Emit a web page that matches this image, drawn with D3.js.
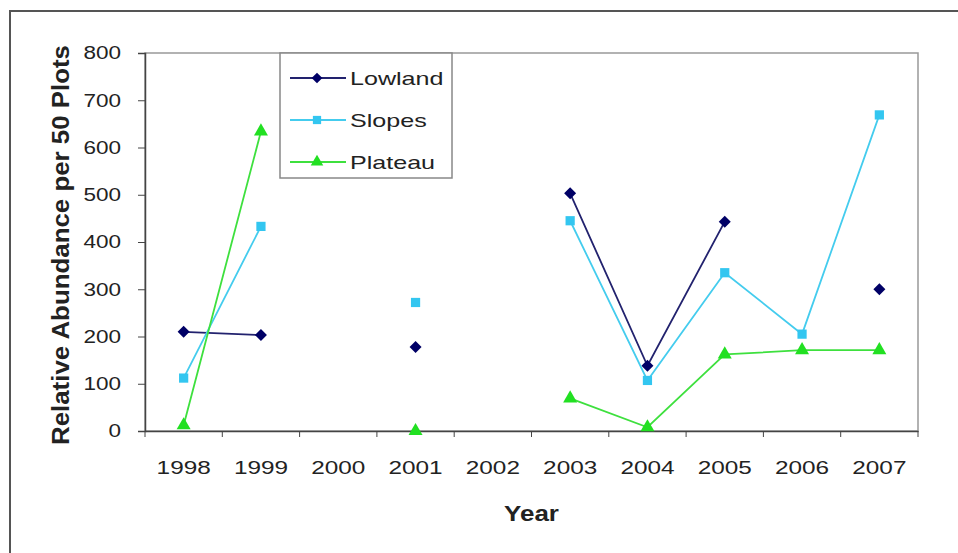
<!DOCTYPE html>
<html>
<head>
<meta charset="utf-8">
<script src="https://cdn.jsdelivr.net/npm/d3@7"></script>
<style>
  body { margin: 0; background: #fff; }
  text { font-family: "Liberation Sans", Arial, sans-serif; fill: #222; }
</style>
</head>
<body>
<div class="chart"></div>
<script>
let years = ["1998", "1999", "2000", "2001", "2002", "2003", "2004", "2005", "2006", "2007"];
let lowland = [210, 203, null, 178, null, 503, 138, 443, null, 300];
let slopes = [112, 433, null, 272, null, 445, 107, 335, 205, 669];
let plateau = [12, 634, null, 0, null, 69, 8, 162, 171, 171];
let seriesNames = ["Lowland", "Slopes", "Plateau"];
let yTicks = [0, 100, 200, 300, 400, 500, 600, 700, 800];

let width = 958;
let height = 553;
let margin = { top: 53, left: 145, right: 40, bottom: 122 };
let plotW = width - margin.left - margin.right;
let plotH = height - margin.top - margin.bottom;

// the picture is a bit wider than a normal font, so text is stretched
function stretch(sel, k) {
  sel.each(function() {
    let w = this.getComputedTextLength();
    d3.select(this).attr("textLength", w * k).attr("lengthAdjust", "spacingAndGlyphs");
  });
}

let svg = d3.select(".chart")
  .append("svg")
  .attr("width", width)
  .attr("height", height);

// outer frame, runs off the right and bottom edge
svg.append("rect")
  .attr("x", 10)
  .attr("y", 11)
  .attr("width", 1000)
  .attr("height", 600)
  .attr("fill", "none")
  .attr("stroke", "#555")
  .attr("stroke-width", 2);

let g = svg.append("g")
  .attr("transform", "translate(" + margin.left + "," + margin.top + ")");

let x = d3.scaleBand().domain(years).range([0, plotW]).padding(0);
let y = d3.scaleLinear().domain([0, 800]).range([plotH, 0]);

// plot area border
g.append("rect")
  .attr("x", 0)
  .attr("y", 0)
  .attr("width", plotW)
  .attr("height", plotH)
  .attr("fill", "none")
  .attr("stroke", "#999")
  .attr("stroke-width", 1.5);

// y axis
let yAxis = g.append("g")
  .call(d3.axisLeft(y).tickValues(yTicks).tickSize(7).tickPadding(17));
yAxis.select(".domain").attr("stroke", "#444").attr("stroke-width", 1.5);
yAxis.selectAll(".tick line").attr("stroke", "#444");
yAxis.selectAll(".tick text")
  .attr("font-size", 18)
  .attr("fill", "#2a2a2a")
  .attr("font-family", "Liberation Sans, Arial, sans-serif")
  .call(stretch, 1.25);

// x axis, ticks sit between the categories
let xAxis = g.append("g")
  .attr("transform", "translate(0," + plotH + ")")
  .call(d3.axisBottom(x).tickSize(0).tickPadding(30));
xAxis.select(".domain").attr("stroke", "#444").attr("stroke-width", 1.5);
xAxis.selectAll(".tick text")
  .attr("font-size", 19)
  .attr("fill", "#2a2a2a")
  .attr("font-family", "Liberation Sans, Arial, sans-serif")
  .call(stretch, 1.28);
xAxis.selectAll(".sep")
  .data(years.concat(["end"]))
  .enter()
  .append("line")
  .attr("class", "sep")
  .attr("x1", function(d, i) { return i < years.length ? x(d) : plotW; })
  .attr("x2", function(d, i) { return i < years.length ? x(d) : plotW; })
  .attr("y1", 0)
  .attr("y2", 6)
  .attr("stroke", "#444");

// axis titles
svg.append("text")
  .attr("transform", "translate(69,245) rotate(-90)")
  .attr("text-anchor", "middle")
  .attr("font-size", 24)
  .attr("font-weight", "bold")
  .attr("fill", "#111")
  .attr("textLength", 400)
  .attr("lengthAdjust", "spacingAndGlyphs")
  .text("Relative Abundance per 50 Plots");

svg.append("text")
  .attr("x", margin.left + plotW / 2)
  .attr("y", 521)
  .attr("text-anchor", "middle")
  .attr("font-size", 22)
  .attr("font-weight", "bold")
  .attr("fill", "#111")
  .text("Year")
  .call(stretch, 1.18);

// diamonds in the picture are square ones turned 45 degrees
let series = [
  { name: seriesNames[0], values: lowland, line: "#22226e", fill: "#000066", shape: d3.symbolSquare, size: 72, rot: 45 },
  { name: seriesNames[1], values: slopes, line: "#44ccee", fill: "#33c6f0", shape: d3.symbolSquare, size: 85, rot: 0 },
  { name: seriesNames[2], values: plateau, line: "#3ee03e", fill: "#22e022", shape: d3.symbolTriangle, size: 85, rot: 0 }
];

let line = d3.line()
  .defined(function(d) { return d != null; })
  .x(function(d, i) { return x(years[i]) + x.bandwidth() / 2; })
  .y(function(d) { return y(d); });

series.forEach(function(s) {
  g.append("path")
    .datum(s.values)
    .attr("d", line)
    .attr("fill", "none")
    .attr("stroke", s.line)
    .attr("stroke-width", 1.8);

  g.selectAll(".pt-" + s.name)
    .data(s.values.map(function(v, i) { return { v: v, year: years[i] }; })
      .filter(function(d) { return d.v != null; }))
    .enter()
    .append("path")
    .attr("class", "pt-" + s.name)
    .attr("d", d3.symbol().type(s.shape).size(s.size))
    .attr("transform", function(d) {
      return "translate(" + (x(d.year) + x.bandwidth() / 2) + "," + y(d.v) + ") rotate(" + s.rot + ")";
    })
    .attr("fill", s.fill);
});

// legend
let legend = svg.append("g").attr("transform", "translate(280,53)");
legend.append("rect")
  .attr("width", 172)
  .attr("height", 125)
  .attr("fill", "#fff")
  .attr("stroke", "#888")
  .attr("stroke-width", 1.5);

let rows = legend.selectAll(".row")
  .data(series)
  .enter()
  .append("g")
  .attr("class", "row")
  .attr("transform", function(d, i) { return "translate(0," + (25 + i * 42) + ")"; });

rows.append("line")
  .attr("x1", 10)
  .attr("x2", 66)
  .attr("stroke", function(d) { return d.line; })
  .attr("stroke-width", 1.8);

rows.append("path")
  .attr("d", function(d) { return d3.symbol().type(d.shape).size(d.size * 0.8)(); })
  .attr("transform", function(d) { return "translate(37,0) rotate(" + d.rot + ")"; })
  .attr("fill", function(d) { return d.fill; });

rows.append("text")
  .attr("x", 70)
  .attr("y", 6)
  .attr("dy", "0.05em")
  .attr("font-size", 19)
  .attr("fill", "#2a2a2a")
  .text(function(d) { return d.name; })
  .call(stretch, 1.32);
</script>
</body>
</html>
